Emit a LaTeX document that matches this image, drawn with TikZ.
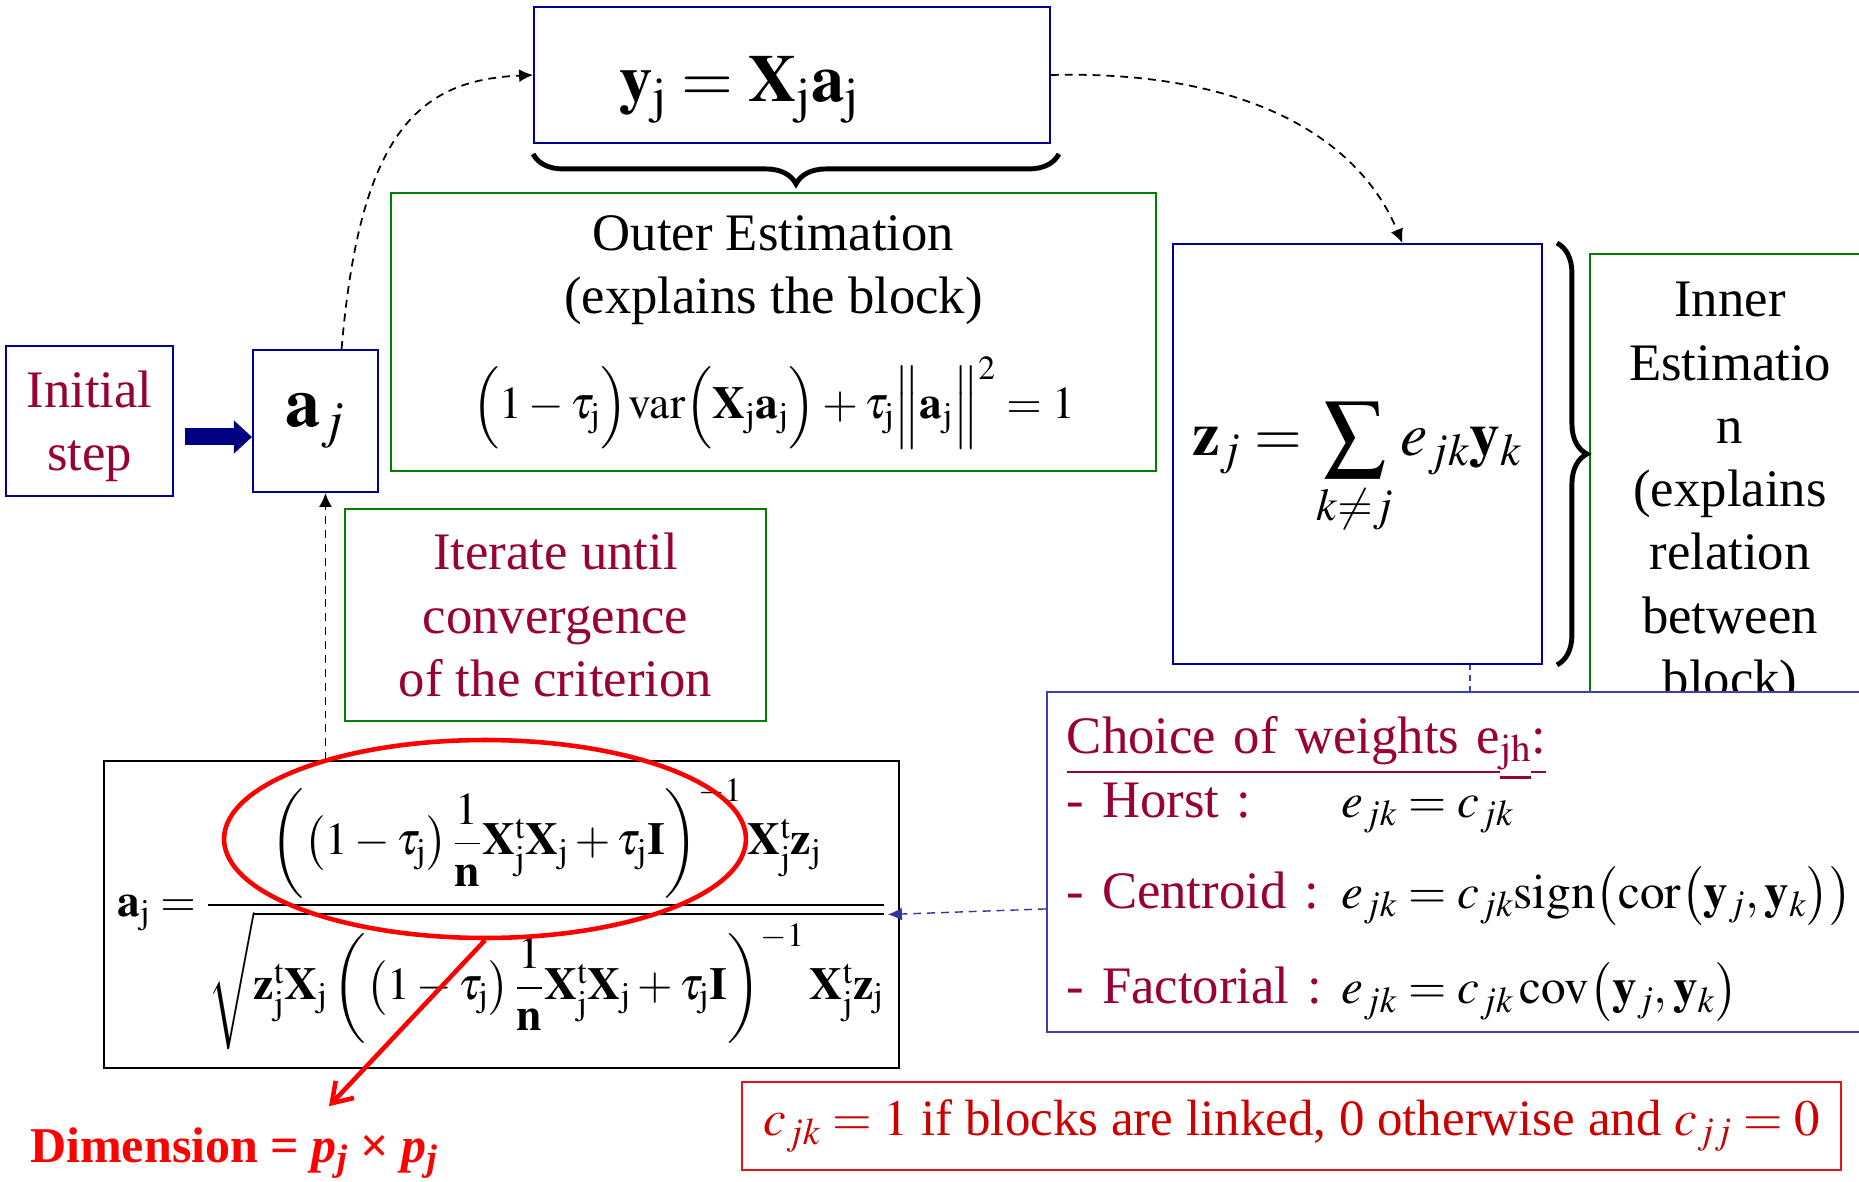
\documentclass[tikz,border=0pt]{standalone}
\usepackage{amsmath}
\usepackage{mathptmx}
\usepackage{fontspec}
\setmainfont{Liberation Serif}
\usepackage{tikz}
\usetikzlibrary{positioning,decorations.pathreplacing,arrows.meta,shapes.geometric}

\definecolor{boxblue}{HTML}{000099}
\definecolor{choiceblue}{HTML}{4040AA}
\definecolor{linkblue}{HTML}{333399}
\definecolor{boxgreen}{HTML}{008000}
\definecolor{maroon}{HTML}{990033}
\definecolor{cred}{HTML}{CC0000}
\definecolor{cboxred}{HTML}{E81010}
\definecolor{navyfill}{HTML}{000080}

\newcommand{\rj}{_{\mathrm{j}}}
\newcommand{\eqsize}{\fontsize{28}{34}\selectfont}

\begin{document}
\begin{tikzpicture}[x=0.02cm, y=-0.02cm,
	every node/.style={font=\fontsize{30}{36}\selectfont},
	bluebox/.style={draw=boxblue, line width=1.1pt, inner sep=0pt, align=center},
	greenbox/.style={draw=boxgreen, line width=1.1pt, inner sep=0pt, align=center},
	flow/.style={line width=1pt, dash pattern=on 4.5pt off 3.4pt, -{Latex[length=0.28cm,width=0.26cm]}},
	curly/.style={line width=2.8pt, decorate}]
	\useasboundingbox (0,0) rectangle (1859,1182);

	\node[bluebox, minimum width=3.34cm, minimum height=3cm, text=maroon] (init) at (89.5,421) {\raisebox{-0.1cm}[\height][\depth]{Initial}\\\raisebox{-0.1cm}[\height][\depth]{step}};
	\node[bluebox, minimum width=2.5cm, minimum height=2.84cm, right=1.56cm of init, font=\fontsize{40}{48}\selectfont] (aj) {$\mathbf{a}_{j}$};

	\node[bluebox, inner xsep=1.7cm, text width=6.92cm, align=left, minimum height=2.72cm, font=\fontsize{38}{44}\selectfont] (yj) at (792,75) {\raisebox{-0.3cm}[\height][\depth]{$\mathbf{y}\rj=\mathbf{X}\rj\mathbf{a}\rj$}};

	\node[greenbox, minimum width=15.3cm, minimum height=5.56cm] (outer) at (773.5,332) {Outer Estimation\\(explains the block)\\[0.6cm]
		{\fontsize{26}{32}\selectfont$\Bigl(1-\tau\rj\Bigr)\mathrm{var}\Bigl(\mathbf{X}\rj\mathbf{a}\rj\Bigr)+\tau\rj\Bigl\|\mathbf{a}\rj\Bigr\|^{2}=1$}};

	\node[bluebox, minimum width=7.38cm, minimum height=8.4cm, font=\fontsize{35}{42}\selectfont] (zj) at (1357.5,454) {\raisebox{-0.3cm}[\height][\depth]{$\displaystyle\mathbf{z}_{j}=\sum_{k\neq j}e_{jk}\mathbf{y}_{k}$}};

	\node[greenbox, minimum width=5.6cm, minimum height=9.64cm] (inner) at (1730,495) {Inner\\Estimatio\\n\\(explains\\relation\\between\\block)};

	\node[greenbox, minimum width=8.42cm, minimum height=4.24cm, text=maroon] (iterate) at (555.5,615) {Iterate until\\convergence\\of the criterion};

	\node[draw=black, line width=1.1pt, inner sep=0pt, minimum width=15.9cm, minimum height=6.14cm, font=\fontsize{26}{32}\selectfont] (fbox) at (501.5,914.5) {$\displaystyle\mathbf{a}\rj=\frac{\left(\left(1-\tau\rj\right)\dfrac{1}{\mathbf{n}}\mathbf{X}\rj^{\mathrm{t}}\mathbf{X}\rj+\tau\rj\mathbf{I}\right)^{-1}\mathbf{X}\rj^{\mathrm{t}}\mathbf{z}\rj}{\sqrt{\mathbf{z}\rj^{\mathrm{t}}\mathbf{X}\rj\left(\left(1-\tau\rj\right)\dfrac{1}{\mathbf{n}}\mathbf{X}\rj^{\mathrm{t}}\mathbf{X}\rj+\tau\rj\mathbf{I}\right)^{-1}\mathbf{X}\rj^{\mathrm{t}}\mathbf{z}\rj}}$};

	\node[ellipse, draw=red, line width=2.6pt, inner sep=0pt, minimum width=10.44cm, minimum height=3.96cm] (focus) at (485,839) {};

	\draw[line width=0.8pt, dashed, choiceblue] ([xshift=2.25cm]zj.south) -- ([xshift=2.25cm]zj.south |- 0,691);

	\node[draw=choiceblue, line width=1.1pt, fill=white, anchor=north west, inner xsep=0.4cm, inner ysep=0pt, text width=15.88cm, minimum height=6.8cm, align=left] (choice) at (1046,691) {%
		\raisebox{-0.08cm}[\height][\depth]{\begin{tabular}{@{}l@{\hspace{0.4cm}}l@{}}
			\multicolumn{2}{@{}l}{\color{maroon}\underline{Choice of weights e}\underline{$_{\mathrm{jh}}$}\underline{:\vphantom{g}}}\\[-0.15cm]
			\color{maroon}- Horst : & {\eqsize$e_{jk}=c_{jk}$}\\[0.55cm]
			\color{maroon}- Centroid : & {\eqsize$e_{jk}=c_{jk}\mathrm{sign}\bigl(\mathrm{cor}\bigl(\mathbf{y}_{j},\mathbf{y}_{k}\bigr)\bigr)$}\\[0.65cm]
			\color{maroon}- Factorial : & {\eqsize$e_{jk}=c_{jk}\,\mathrm{cov}\bigl(\mathbf{y}_{j},\mathbf{y}_{k}\bigr)$}
		\end{tabular}}};

	\node[draw=cboxred, line width=1.1pt, inner sep=0pt, minimum width=21.98cm, minimum height=1.76cm, text=cred, font=\fontsize{29}{35}\selectfont] (cbox) at (1291.5,1126) {$c_{jk}=1$ if blocks are linked, 0 otherwise and $c_{jj}=0$};

	\node[text=red, font=\fontsize{28.5}{34}\selectfont\bfseries] (dim) at (234,1153) {Dimension = \textit{p\textsubscript{j}} × \textit{p\textsubscript{j}}};

	% connectors
	\draw[line width=0.34cm, navyfill, -{Triangle[length=0.36cm,width=0.66cm,line width=0.5pt]}] ([xshift=0.22cm,yshift=-0.32cm]init.east) -- ([yshift=-0.32cm]init.east -| aj.west);
	\draw[flow] (aj.70) .. controls (360,130) and (420,80) .. (yj.west);
	\draw[flow] (yj.east) .. controls (1250,70) and (1360,140) .. (zj.78);
	\draw[flow] (aj.-82 |- fbox.north) -- (aj.-82);
	\draw[flow, linkblue, line width=0.8pt] ([yshift=-0.94cm]choice.west) -- ([xshift=-0.24cm]fbox.east);
	\draw[line width=2.6pt, red, -{Straight Barb[length=0.38cm,width=0.5cm]}] (focus.south) -- ([xshift=1.9cm,yshift=0.3cm]dim.north);

	% braces
	\draw[curly, decoration={brace, mirror, amplitude=0.6cm}] ([yshift=-0.2cm]yj.south west) -- ([xshift=0.16cm,yshift=-0.2cm]yj.south east);
	\draw[curly, decoration={brace, amplitude=0.6cm}] ([xshift=0.28cm]zj.north east) -- ([xshift=0.28cm]zj.south east);
\end{tikzpicture}
\end{document}
